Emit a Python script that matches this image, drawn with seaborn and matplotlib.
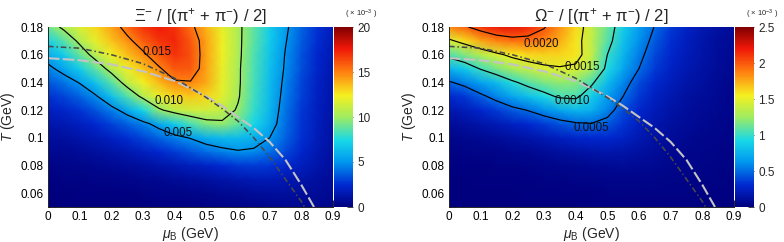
"""Xi- and Omega- to pion ratios in the (mu_B, T) plane."""

import numpy as np
import matplotlib
matplotlib.use("Agg")
import matplotlib.pyplot as plt
import seaborn as sns
from matplotlib.colors import LinearSegmentedColormap
from matplotlib.ticker import MultipleLocator, FormatStrFormatter

# grid: columns mu_B (GeV), rows T (GeV), values x 1e-3
mu_b = [0.00, 0.05, 0.10, 0.15, 0.20, 0.25, 0.30, 0.35, 0.40, 0.45,
        0.50, 0.55, 0.60, 0.65, 0.70, 0.75, 0.80, 0.85, 0.90]
temp = [0.05, 0.06, 0.07, 0.08, 0.09, 0.10, 0.11,
        0.12, 0.13, 0.14, 0.15, 0.16, 0.17, 0.18]

xi_ratio = [
    [0.02, 0.02, 0.03, 0.03, 0.04, 0.05, 0.07, 0.09, 0.11, 0.14, 0.17, 0.22, 0.28, 0.35, 0.42, 0.48, 0.50, 0.47, 0.40],
    [0.06, 0.07, 0.08, 0.10, 0.12, 0.15, 0.19, 0.24, 0.30, 0.37, 0.46, 0.56, 0.68, 0.80, 0.90, 0.95, 0.90, 0.75, 0.55],
    [0.15, 0.17, 0.20, 0.25, 0.30, 0.38, 0.47, 0.58, 0.72, 0.88, 1.05, 1.25, 1.45, 1.60, 1.65, 1.55, 1.30, 1.00, 0.70],
    [0.30, 0.35, 0.42, 0.52, 0.65, 0.82, 1.00, 1.25, 1.50, 1.80, 2.10, 2.45, 2.75, 2.85, 2.75, 2.35, 1.85, 1.35, 0.90],
    [0.55, 0.62, 0.75, 0.95, 1.20, 1.50, 1.90, 2.35, 2.85, 3.40, 4.00, 4.50, 4.85, 4.70, 4.10, 3.20, 2.30, 1.55, 1.00],
    [0.90, 1.00, 1.25, 1.60, 2.00, 2.50, 3.10, 3.80, 4.50, 5.10, 5.90, 6.30, 6.40, 5.95, 5.00, 3.80, 2.60, 1.75, 1.05],
    [1.35, 1.55, 1.90, 2.40, 3.00, 3.70, 4.50, 5.60, 6.90, 8.30, 9.40, 9.70, 8.90, 7.40, 5.80, 4.00, 2.70, 1.80, 1.05],
    [1.90, 2.20, 2.70, 3.40, 4.40, 5.70, 7.40, 9.70, 10.8, 11.4, 11.4, 10.9, 9.80, 7.90, 6.10, 4.20, 2.80, 1.90, 1.10],
    [2.60, 3.10, 3.80, 4.80, 6.50, 8.50, 10.5, 12.0, 13.0, 13.3, 13.0, 11.8, 10.2, 8.20, 6.30, 4.40, 3.00, 2.00, 1.20],
    [3.50, 4.20, 5.10, 6.70, 8.60, 10.8, 12.3, 13.6, 14.8, 14.9, 14.0, 12.0, 10.3, 8.30, 6.40, 4.60, 3.10, 2.10, 1.30],
    [4.60, 5.60, 7.00, 8.80, 10.7, 12.2, 13.4, 14.8, 16.0, 16.0, 14.2, 12.1, 10.3, 8.40, 6.50, 4.80, 3.30, 2.20, 1.40],
    [5.80, 7.00, 8.90, 10.7, 12.2, 13.5, 14.7, 16.0, 16.9, 16.2, 14.2, 12.2, 10.4, 8.50, 6.70, 4.90, 3.40, 2.30, 1.50],
    [7.20, 8.60, 10.4, 12.0, 13.4, 14.6, 15.8, 16.8, 17.2, 16.0, 14.2, 12.2, 10.4, 8.70, 6.90, 5.10, 3.60, 2.50, 1.60],
    [9.00, 10.4, 11.7, 12.9, 14.2, 15.6, 16.9, 17.5, 17.0, 15.4, 13.8, 12.0, 10.4, 8.80, 7.00, 5.30, 3.80, 2.60, 1.70],
]

omega_ratio = [
    [0.00, 0.00, 0.00, 0.00, 0.00, 0.00, 0.00, 0.00, 0.00, 0.01, 0.01, 0.01, 0.01, 0.01, 0.01, 0.01, 0.01, 0.00, 0.00],
    [0.00, 0.00, 0.00, 0.00, 0.00, 0.01, 0.01, 0.01, 0.01, 0.01, 0.02, 0.02, 0.02, 0.02, 0.02, 0.02, 0.01, 0.01, 0.01],
    [0.00, 0.00, 0.01, 0.01, 0.01, 0.01, 0.02, 0.02, 0.03, 0.03, 0.04, 0.04, 0.04, 0.04, 0.03, 0.03, 0.02, 0.02, 0.01],
    [0.01, 0.01, 0.01, 0.02, 0.02, 0.03, 0.04, 0.05, 0.06, 0.07, 0.08, 0.09, 0.08, 0.07, 0.05, 0.04, 0.03, 0.02, 0.02],
    [0.02, 0.03, 0.035, 0.045, 0.06, 0.075, 0.095, 0.12, 0.14, 0.16, 0.17, 0.16, 0.13, 0.10, 0.075, 0.055, 0.04, 0.03, 0.02],
    [0.05, 0.06, 0.08, 0.10, 0.13, 0.16, 0.20, 0.24, 0.28, 0.30, 0.30, 0.26, 0.19, 0.14, 0.10, 0.07, 0.05, 0.04, 0.03],
    [0.10, 0.12, 0.16, 0.20, 0.25, 0.30, 0.36, 0.42, 0.47, 0.49, 0.44, 0.34, 0.24, 0.17, 0.12, 0.09, 0.07, 0.05, 0.03],
    [0.18, 0.22, 0.29, 0.36, 0.44, 0.51, 0.60, 0.70, 0.78, 0.74, 0.57, 0.41, 0.29, 0.21, 0.15, 0.11, 0.08, 0.06, 0.04],
    [0.30, 0.35, 0.46, 0.57, 0.70, 0.82, 0.93, 1.04, 1.05, 0.87, 0.66, 0.50, 0.35, 0.25, 0.18, 0.13, 0.10, 0.07, 0.04],
    [0.48, 0.56, 0.68, 0.80, 0.96, 1.08, 1.17, 1.22, 1.20, 1.04, 0.80, 0.58, 0.41, 0.30, 0.22, 0.16, 0.12, 0.08, 0.05],
    [0.76, 0.86, 1.02, 1.16, 1.28, 1.38, 1.45, 1.48, 1.46, 1.28, 0.94, 0.70, 0.50, 0.36, 0.26, 0.19, 0.14, 0.09, 0.06],
    [1.07, 1.18, 1.32, 1.45, 1.56, 1.62, 1.64, 1.63, 1.58, 1.38, 1.00, 0.77, 0.55, 0.40, 0.29, 0.21, 0.15, 0.10, 0.07],
    [1.45, 1.60, 1.75, 1.86, 1.92, 1.92, 1.86, 1.74, 1.58, 1.37, 1.08, 0.83, 0.61, 0.44, 0.32, 0.23, 0.16, 0.11, 0.08],
    [1.85, 1.97, 2.10, 2.20, 2.22, 2.15, 2.02, 1.82, 1.62, 1.38, 1.12, 0.87, 0.66, 0.49, 0.36, 0.26, 0.19, 0.13, 0.09],
]

xi_levels = [5, 10, 15]
xi_level_text = ["0.005", "0.010", "0.015"]
xi_label_mu = [0.41, 0.382, 0.345]
xi_label_t = [0.1035, 0.1266, 0.162]
xi_cticks = [0, 5, 10, 15, 20]

omega_levels = [0.5, 1.0, 1.5, 2.0]
omega_level_text = ["0.0005", "0.0010", "0.0015", "0.0020"]
omega_label_mu = [0.45, 0.39, 0.42, 0.29]
omega_label_t = [0.107, 0.1266, 0.151, 0.168]
omega_cticks = [0, 0.5, 1, 1.5, 2, 2.5]

# freeze-out curves
dashdot_mu = [0.0, 0.1, 0.2, 0.3, 0.4, 0.45, 0.5, 0.55, 0.6, 0.65, 0.7, 0.75, 0.8, 0.81]
dashdot_t = [0.166, 0.1647, 0.160, 0.1535, 0.143, 0.136, 0.129, 0.121, 0.112, 0.100, 0.086, 0.070, 0.054, 0.050]
dashed_mu = [0.0, 0.1, 0.2, 0.3, 0.4, 0.5, 0.55, 0.6, 0.65, 0.7, 0.75, 0.8, 0.84]
dashed_t = [0.1575, 0.156, 0.153, 0.148, 0.141, 0.130, 0.123, 0.115, 0.107, 0.097, 0.084, 0.066, 0.050]

sns.set_theme(style="ticks")
plt.rcParams["font.family"] = ["Liberation Sans", "DejaVu Sans"]
plt.rcParams["mathtext.fontset"] = "custom"
plt.rcParams["mathtext.rm"] = "Liberation Sans"
plt.rcParams["mathtext.it"] = "Liberation Sans:italic"
plt.rcParams["mathtext.bf"] = "Liberation Sans:bold"

cmap = LinearSegmentedColormap.from_list("rainbow_root", [
    (0.00, "#00007f"), (0.12, "#0028d0"), (0.25, "#0098f0"),
    (0.37, "#18d8e8"), (0.50, "#a0ec60"), (0.62, "#f5f020"),
    (0.75, "#ff8010"), (0.88, "#f01808"), (1.00, "#800000"),
])

W, H = 784, 242
fig = plt.figure(figsize=(W / 100, H / 100), dpi=100)


def panel(x0, z, vmax, cticks, levels, ltext, lmu, lt, title):
    ax = fig.add_axes([x0 / W, 35 / H, 285 / W, 180 / H])
    cax = fig.add_axes([(x0 + 286) / W, 35 / H, 19 / W, 180 / H])
    z = np.array(z)
    mesh = ax.pcolormesh(mu_b, temp, z, shading="gouraud", cmap=cmap,
                         vmin=0, vmax=vmax)
    ax.contour(mu_b, temp, z, levels=levels, colors="black", linewidths=0.85)
    for s, m, t in zip(ltext, lmu, lt):
        ax.text(m, t, s, ha="center", va="center", fontsize=8.3, color="#111111")

    sns.lineplot(x=dashed_mu, y=dashed_t, ax=ax, sort=False, color="#c4c4c4",
                 linewidth=1.5, linestyle=(0, (5.5, 1.6)))
    sns.lineplot(x=dashdot_mu, y=dashdot_t, ax=ax, sort=False, color="#4a4a4a",
                 linewidth=1.15, linestyle=(0, (3.5, 1.8, 0.9, 1.8)))

    ax.set_xlim(0, 0.9)
    ax.set_ylim(0.05, 0.18)
    ax.xaxis.set_major_locator(MultipleLocator(0.1))
    ax.xaxis.set_minor_locator(MultipleLocator(0.02))
    ax.yaxis.set_major_locator(MultipleLocator(0.02))
    ax.yaxis.set_minor_locator(MultipleLocator(0.005))
    ax.xaxis.set_major_formatter(FormatStrFormatter("%g"))
    ax.yaxis.set_major_formatter(FormatStrFormatter("%g"))
    ax.tick_params(which="both", direction="in", top=False, right=False,
                   width=0.6, colors="black", labelsize=8.5, pad=3)
    ax.tick_params(which="major", length=5)
    ax.tick_params(which="minor", length=2.5)
    for side in ["top", "right"]:
        ax.spines[side].set_visible(False)
    for side in ["left", "bottom"]:
        ax.spines[side].set_linewidth(0.7)
    ax.set_xlabel(r"$\mu_{\mathrm{B}}$ (GeV)", fontsize=10, labelpad=1)
    ax.set_ylabel(r"$T$ (GeV)", fontsize=10, labelpad=3)

    cb = fig.colorbar(mesh, cax=cax)
    cb.outline.set_visible(False)
    cb.set_ticks(cticks)
    cb.ax.yaxis.set_major_formatter(FormatStrFormatter("%g"))
    cb.ax.tick_params(direction="in", length=4, width=0.6, labelsize=8.5, pad=3)

    fig.text((x0 + 152) / W, 1 - 16 / H, title, ha="center", va="center",
             fontsize=12)
    fig.text((x0 + 313) / W, 1 - 14 / H, r"( $\times$ 10$^{-3}$ )",
             ha="center", va="center", fontsize=5.5)


panel(48, xi_ratio, 20, xi_cticks, xi_levels, xi_level_text,
      xi_label_mu, xi_label_t,
      r"$\mathrm{\Xi^{-}}$ / [($\mathrm{\pi^{+}}$ + $\mathrm{\pi^{-}}$) / 2]")
panel(449, omega_ratio, 2.5, omega_cticks, omega_levels, omega_level_text,
      omega_label_mu, omega_label_t,
      r"$\mathrm{\Omega^{-}}$ / [($\mathrm{\pi^{+}}$ + $\mathrm{\pi^{-}}$) / 2]")

fig.savefig("out.png", dpi=100)
